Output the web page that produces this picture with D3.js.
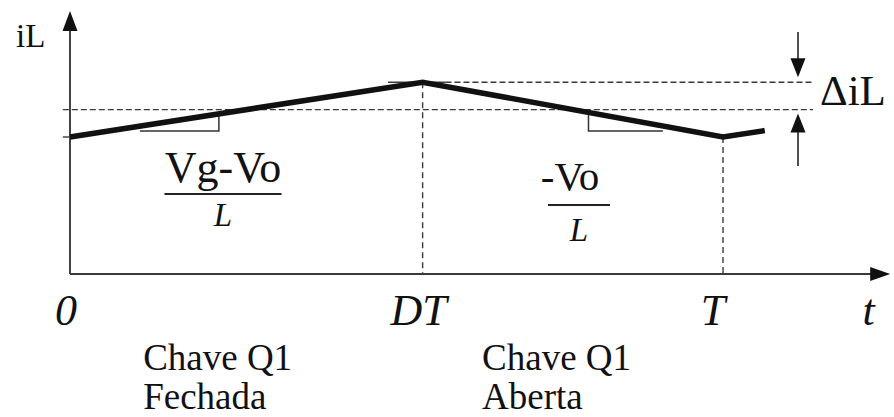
<!DOCTYPE html>
<html>
<head>
<meta charset="utf-8">
<script src="https://cdn.jsdelivr.net/npm/d3@7"></script>
<style>
  body { margin: 0; background: #fff; }
  svg { display: block; }
</style>
</head>
<body>
<script>
// Buck converter inductor current over one switching period (T = 1)
const timePoints = [0, 0.54, 1, 1.064];
const currentValues = [1.0, 1.4, 1.0, 1.047];
const rippleLevels = [1.4, 1.2];          // iL peak, iL average
const tickTimes = [0, 0.54, 1, 1.223];
const tickLabels = ["0", "DT", "T", "t"];
const phaseTimes = [0.112, 0.631];
const phaseLabels = [["Chave Q1", "Fechada"], ["Chave Q1", "Aberta"]];
const slopeNumerators = ["Vg-Vo", "-Vo"];
const slopeDenominators = ["L", "L"];

const W = 894, H = 417;
const FONT = "'Liberation Serif', 'Times New Roman', serif";
const svg = d3.select("body").append("svg").attr("width", W).attr("height", H)
  .attr("font-family", FONT);

const x = d3.scaleLinear().domain([0, 1]).range([70, 723]);
const y = d3.scaleLinear().domain([0, 1]).range([274, 137]);
const wave = d3.scaleLinear().domain(timePoints).range(currentValues);

const axisColor = "#3a3a3a";
const addText = (tx, ty, size, str) =>
  svg.append("text").attr("x", tx).attr("y", ty).attr("font-size", size)
    .attr("font-family", FONT).attr("fill", "#111").text(str);

// reference levels: peak and average current
const tEnd = 1.138;
svg.append("line")
  .attr("x1", x(0.487)).attr("x2", x(0.575))
  .attr("y1", y(rippleLevels[0])).attr("y2", y(rippleLevels[0]))
  .attr("stroke", axisColor).attr("stroke-width", 1.4);
svg.append("line")
  .attr("x1", x(0.575)).attr("x2", x(tEnd))
  .attr("y1", y(rippleLevels[0])).attr("y2", y(rippleLevels[0]))
  .attr("stroke", axisColor).attr("stroke-width", 1.4).attr("stroke-dasharray", "6,3");
svg.append("line")
  .attr("x1", x(-0.011)).attr("x2", x(tEnd))
  .attr("y1", y(rippleLevels[1])).attr("y2", y(rippleLevels[1]))
  .attr("stroke", axisColor).attr("stroke-width", 1.4).attr("stroke-dasharray", "6,3");
// small tick at the minimum current on the iL axis
svg.append("line")
  .attr("x1", x(-0.011)).attr("x2", x(0))
  .attr("y1", y(currentValues[0])).attr("y2", y(currentValues[0]))
  .attr("stroke", axisColor).attr("stroke-width", 1.4);

// switching instants DT and T
[1, 2].forEach(i => {
  svg.append("line")
    .attr("x1", x(timePoints[i])).attr("x2", x(timePoints[i]))
    .attr("y1", y(currentValues[i])).attr("y2", y(0))
    .attr("stroke", axisColor).attr("stroke-width", 1.4).attr("stroke-dasharray", "6,4");
});

// slope triangles
const level = 1.044;
const tri = [[0.107, 0.228, 0.228], [0.794, 0.908, 0.794]];
tri.forEach(([a, b, v]) => {
  const p = d3.path();
  if (v === b) {
    p.moveTo(x(a), y(level)); p.lineTo(x(b), y(level)); p.lineTo(x(b), y(wave(b)));
  } else {
    p.moveTo(x(a), y(wave(a))); p.lineTo(x(a), y(level)); p.lineTo(x(b), y(level));
  }
  svg.append("path").attr("d", p.toString()).attr("fill", "none")
    .attr("stroke", "#333").attr("stroke-width", 1.5);
});

// axes with arrowheads
const xMax = 1.256, yMax = 1.92;
svg.append("line").attr("x1", x(0)).attr("x2", x(xMax) - 14).attr("y1", y(0)).attr("y2", y(0))
  .attr("stroke", axisColor).attr("stroke-width", 1.9);
svg.append("line").attr("x1", x(0)).attr("x2", x(0)).attr("y1", y(0)).attr("y2", y(yMax) + 14)
  .attr("stroke", axisColor).attr("stroke-width", 1.9);
svg.append("path")
  .attr("d", `M${x(xMax)},${y(0)} L${x(xMax) - 20},${y(0) - 7} L${x(xMax) - 20},${y(0) + 7} Z`)
  .attr("fill", "#111");
svg.append("path")
  .attr("d", `M${x(0)},${y(yMax)} L${x(0) - 7.5},${y(yMax) + 20} L${x(0) + 7.5},${y(yMax) + 20} Z`)
  .attr("fill", "#111");

// inductor current waveform
const line = d3.line().x(d => x(d[0])).y(d => y(d[1]));
svg.append("path")
  .datum(timePoints.map((t, i) => [t, currentValues[i]]))
  .attr("d", line)
  .attr("fill", "none").attr("stroke", "#111").attr("stroke-width", 5.5)
  .attr("stroke-linejoin", "miter");

// ripple arrows
const ax = 798;
function arrow(tipY, dir, tailY) {
  svg.append("line").attr("x1", ax).attr("x2", ax).attr("y1", tailY).attr("y2", tipY - dir * 16)
    .attr("stroke", "#222").attr("stroke-width", 1.6);
  svg.append("path")
    .attr("d", `M${ax},${tipY} L${ax - 7.5},${tipY - dir * 19} L${ax + 7.5},${tipY - dir * 19} Z`)
    .attr("fill", "#111");
}
arrow(y(rippleLevels[0]) - 5, 1, 32);
arrow(y(rippleLevels[1]) + 4, -1, 166);
addText(820, 105, 43, "\u0394iL");

// axis title
addText(16, 47, 33, "iL");

// time tick labels
const tickDx = [-4, -4, -10, 0];
tickLabels.forEach((d, i) => {
  addText(x(tickTimes[i]) + tickDx[i], 325, 44, d)
    .attr("text-anchor", "middle").attr("font-style", "italic");
});

// slope fractions
const frac = [
  { cx: 223, nx: 223, numY: 182, barY: 194, barW: 117, denY: 226, numSize: 44 },
  { cx: 579, nx: 570, numY: 190, barY: 205, barW: 62, denY: 241, numSize: 41 }
];
frac.forEach((f, i) => {
  addText(f.nx, f.numY, f.numSize, slopeNumerators[i]).attr("text-anchor", "middle");
  svg.append("line").attr("x1", f.cx - f.barW / 2).attr("x2", f.cx + f.barW / 2)
    .attr("y1", f.barY).attr("y2", f.barY).attr("stroke", "#222").attr("stroke-width", 1.8);
  addText(f.cx, f.denY, 33, slopeDenominators[i])
    .attr("text-anchor", "middle").attr("font-style", "italic");
});

// switch state labels
phaseLabels.forEach((lines, i) => {
  lines.forEach((s, j) => addText(x(phaseTimes[i]), 370 + j * 39, 37, s));
});
</script>
</body>
</html>
